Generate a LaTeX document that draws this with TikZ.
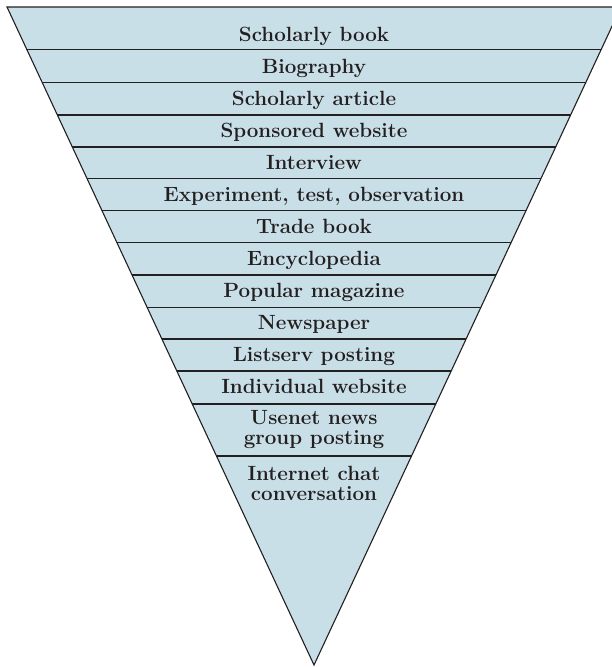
\documentclass[tikz,border=0pt]{standalone}
\usepackage{amsmath}
\usepackage{amssymb}
\usepackage{tikz}

\definecolor{bandfill}{RGB}{201,223,232}
\definecolor{bandline}{RGB}{35,31,32}

\tikzset{
  band label/.style={anchor=base,inner sep=0.75pt,font=\fontsize{20.6}{20}\selectfont\bfseries,text=bandline},
  band pair/.style={anchor=center,inner sep=0.75pt,align=center,font=\fontsize{20.6}{20}\selectfont\bfseries,text=bandline}
}

\begin{document}
\begin{tikzpicture}[x=1pt,y=1pt,yscale=-1,xscale=1]
\useasboundingbox (0,0) rectangle (612,667);

%Triangle
\coordinate (tl) at (7,7);
\coordinate (tr) at (621,7);
\coordinate (apex) at (314,665);
\fill[bandfill] (tl) -- (tr) -- (apex) -- cycle;

%Straight Lines (band borders)
\begin{scope}
\clip (tl) -- (tr) -- (apex) -- cycle;
\foreach \y in {49.5,82.5,115,147,178.5,210.5,242.5,275,307.5,339,371,404,456}
  \draw[bandline,line width=1.1pt] (0,\y) -- (640,\y);
\end{scope}
\draw[bandline,line width=1.1pt,line join=miter] (tl) -- (tr) -- (apex) -- cycle;

% Text Node
\node[band label] (sbook) at (314,41) {Scholarly book};
% Text Node
\node[band label] (bio) at (314,73) {Biography};
% Text Node
\node[band label] (sart) at (314,105.5) {Scholarly article};
% Text Node
\node[band label] (sweb) at (314,137.5) {Sponsored website};
% Text Node
\node[band label] (intv) at (314,169.5) {Interview};
% Text Node
\node[band label] (expt) at (314,201.5) {Experiment, test, observation};
% Text Node
\node[band label] (trade) at (314,233) {Trade book};
% Text Node
\node[band label] (ency) at (314,265) {Encyclopedia};
% Text Node
\node[band label] (pmag) at (314,297.5) {Popular magazine};
% Text Node
\node[band label] (news) at (314,329.5) {Newspaper};
% Text Node
\node[band label] (lserv) at (314,361.5) {Listserv posting};
% Text Node
\node[band label] (iweb) at (314,393.5) {Individual website};
% Text Node
\node[band pair] (usenet) at (314,429.5) {Usenet news\\group posting};
% Text Node
\node[band pair] (ichat) at (314,483) {Internet chat\\conversation};

\end{tikzpicture}
\end{document}
